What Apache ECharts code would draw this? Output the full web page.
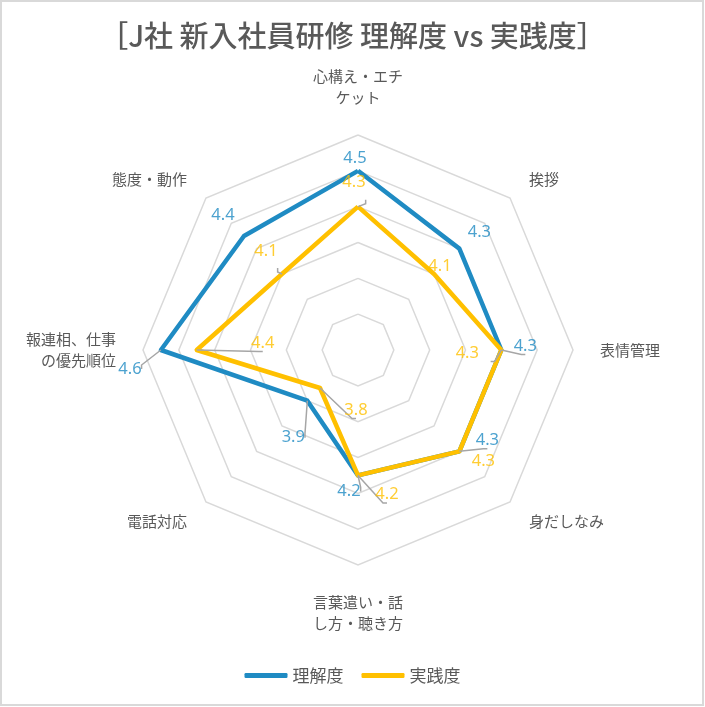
<!DOCTYPE html>
<html>
<head>
<meta charset="utf-8">
<script src="https://cdn.jsdelivr.net/npm/echarts@6/dist/echarts.min.js"></script>
<style>
html,body{margin:0;padding:0;background:#fff;}
#chart{width:705px;height:707px;}
</style>
</head>
<body>
<div id="chart"></div>
<script>
// ---- data ----
const categories = ['心構え・エチ\nケット', '挨拶', '表情管理', '身だしなみ', '言葉遣い・話\nし方・聴き方', '電話対応', '報連相、仕事\nの優先順位', '態度・動作'];
const understanding = [4.5, 4.3, 4.3, 4.3, 4.2, 3.9, 4.6, 4.4]; // 理解度
const practice = [4.3, 4.1, 4.3, 4.3, 4.2, 3.8, 4.4, 4.1];      // 実践度
const seriesNames = ['理解度', '実践度'];
const axisMin = 3.5, axisMax = 4.7, axisSplits = 6;

// ---- layout / style (not data) ----
const colors = ['#1f8bc3', '#ffc000'];
const center = [358, 350];
const radius = 215;
// label offsets [dx, dy] and leader-line flags per category
const offsetsU = [[-3, -13], [20, -16], [24, -4], [28, -11], [-9, 16], [-14, 37], [-31, 19], [-21, -21]];
const leaderU = [false, false, true, true, true, true, true, false];
const offsetsP = [[-4, -24], [6, -8], [-34, 3], [24, 10], [29, 19], [36, 22], [66, -7], [-16, -23]];
const leaderP = [true, false, true, false, true, true, true, true];

// ECharts radar runs counter-clockwise; reorder so the picture runs clockwise
const order = categories.map((_, i) => (categories.length - i) % categories.length);
const indicators = order.map(i => ({ name: categories[i], min: axisMin, max: axisMax }));

function labelData(values, offsets, leaders) {
  return values.map((v, i) => ({
    value: [v, i],
    label: { offset: offsets[i] },
    labelLine: { show: leaders[i] }
  }));
}
function labelSeries(name, values, offsets, leaders, color) {
  return {
    name: name + '_labels',
    type: 'scatter',
    coordinateSystem: 'polar',
    symbolSize: 0.1,
    itemStyle: { color: 'transparent' },
    silent: true,
    z: 10,
    label: {
      show: true,
      position: 'inside',
      color: color,
      fontSize: 16.5,
      fontFamily: 'Noto Sans',
      formatter: p => p.value[0].toFixed(1)
    },
    labelLine: { show: false, length2: 4, lineStyle: { color: '#a6a6a6', width: 1.5 } },
    data: labelData(values, offsets, leaders)
  };
}

const chart = echarts.init(document.getElementById('chart'), null, { renderer: 'canvas' });
chart.setOption({
  animation: false,
  color: colors,
  title: {
    text: '［J社 新入社員研修 理解度 vs 実践度］',
    left: 'center',
    top: 16,
    textStyle: { fontFamily: 'Noto Sans CJK JP', fontSize: 29, fontWeight: 500, color: '#595959' }
  },
  legend: {
    bottom: 18,
    left: 'center',
    data: seriesNames,
    icon: 'roundRect',
    itemWidth: 43,
    itemHeight: 5,
    itemGap: 18,
    textStyle: { fontFamily: 'Noto Sans CJK JP', fontSize: 17, color: '#595959' }
  },
  graphic: [{
    type: 'rect',
    shape: { x: 1, y: 1, width: 702, height: 704 },
    style: { fill: 'none', stroke: '#d9d9d9', lineWidth: 2 },
    silent: true, z: -1
  }],
  radar: {
    center: center,
    radius: radius,
    startAngle: 90,
    splitNumber: axisSplits,
    shape: 'polygon',
    indicator: indicators,
    axisNameGap: 27,
    axisName: { color: '#595959', fontSize: 15, lineHeight: 21, fontFamily: 'Noto Sans CJK JP' },
    axisLine: { show: false },
    axisTick: { show: false },
    axisLabel: { show: false },
    splitArea: { show: false },
    splitLine: { lineStyle: { color: '#d9d9d9', width: 1.5 } }
  },
  polar: { center: center, radius: radius },
  angleAxis: { type: 'category', data: categories, boundaryGap: false, startAngle: 90, clockwise: true, show: false },
  radiusAxis: { type: 'value', min: axisMin, max: axisMax, show: false },
  series: [
    {
      type: 'radar',
      symbol: 'none',
      data: [
        { name: seriesNames[0], value: order.map(i => understanding[i]), lineStyle: { width: 4.5, color: colors[0] } },
        { name: seriesNames[1], value: order.map(i => practice[i]), lineStyle: { width: 4.5, color: colors[1] } }
      ]
    },
    labelSeries(seriesNames[0], understanding, offsetsU, leaderU, colors[0]),
    labelSeries(seriesNames[1], practice, offsetsP, leaderP, colors[1])
  ]
});
</script>
</body>
</html>
